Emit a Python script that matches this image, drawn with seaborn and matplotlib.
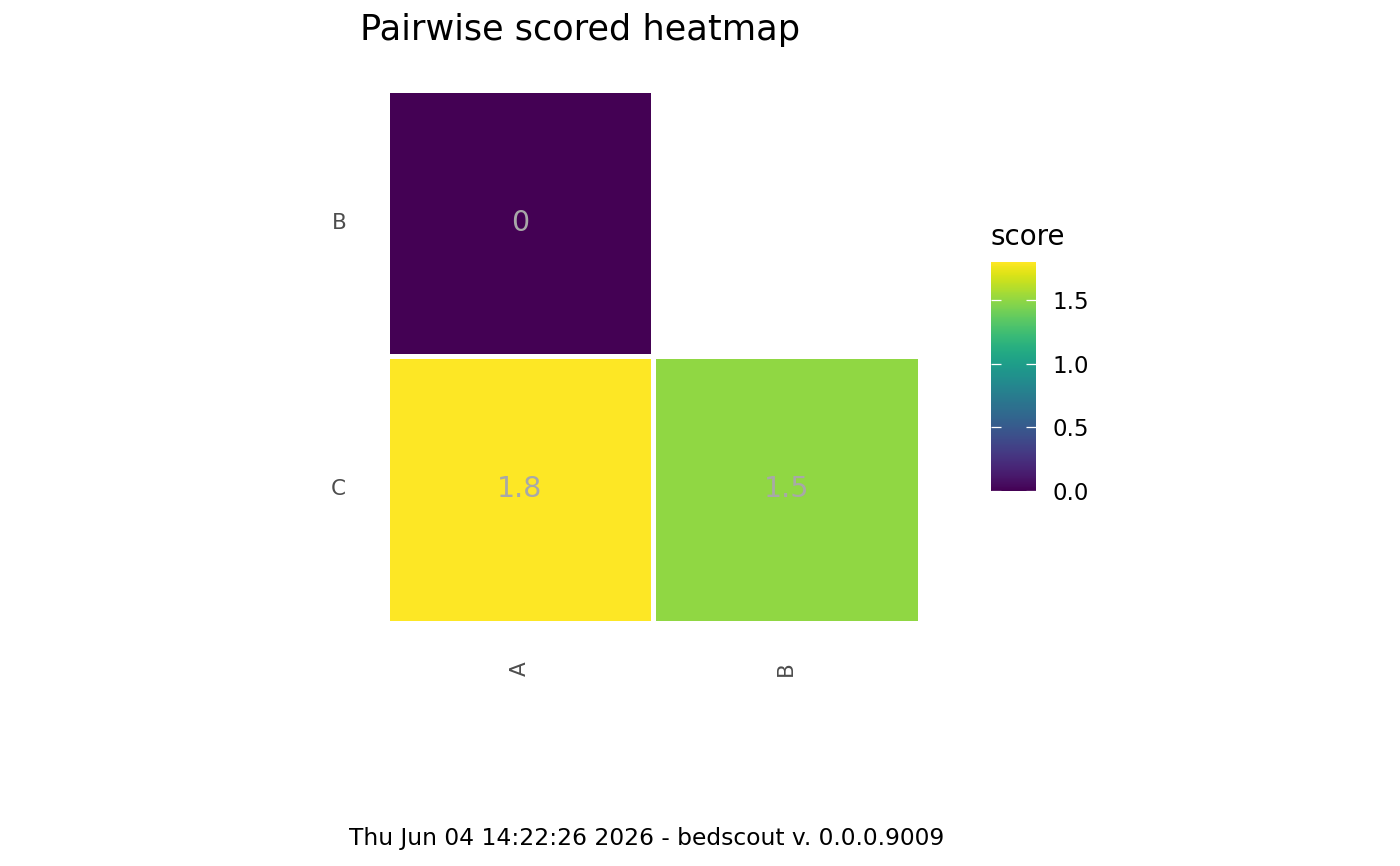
import numpy as np
import pandas as pd
import matplotlib
matplotlib.use("Agg")
import matplotlib.pyplot as plt
import seaborn as sns

# Data
col_labels = ["A", "B"]
row_labels = ["B", "C"]
scores = [[0.0, np.nan],
          [1.8, 1.5]]
annot_text = [["0", ""],
              ["1.8", "1.5"]]
cbar_ticks = [0.0, 0.5, 1.0, 1.5]
title = "Pairwise scored heatmap"
caption = "Thu Jun 04 14:22:26 2026 - bedscout v. 0.0.0.9009"

sns.set_theme(style="white")
plt.rcParams['font.family'] = ['DejaVu Sans']

df = pd.DataFrame(scores, index=row_labels, columns=col_labels)

fig = plt.figure(figsize=(14, 8.66), dpi=100)
ax = fig.add_axes([386.5/1400, 1 - 622.5/866, 533/1400, 533/866])
cax = fig.add_axes([991/1400, 1 - 491/866, 45/1400, 229/866])

sns.heatmap(df, ax=ax, cmap="viridis", vmin=0, vmax=1.8,
            mask=df.isna(), linewidths=3.6, linecolor="white",
            annot=np.array(annot_text), fmt="",
            annot_kws={"color": "#A8A8A8", "fontsize": 20.5},
            cbar_ax=cax, cbar_kws={"ticks": cbar_ticks})

ax.tick_params(axis="both", length=0, labelsize=15.5, colors="#4D4D4D")
ax.tick_params(axis="x", pad=28)
ax.tick_params(axis="y", pad=29)
ax.set_xticklabels(col_labels, rotation=90)
ax.set_yticklabels(row_labels, rotation=0)
ax.set_xlabel("")
ax.set_ylabel("")

cbar = ax.collections[0].colorbar
cbar.outline.set_visible(False)
cbar.set_ticks(cbar_ticks)
cbar.set_ticklabels([f"{t:.1f}" for t in cbar_ticks])
cax.set_axisbelow(False)
cax.tick_params(axis="y", direction="in", length=7.5, width=0.9, color="white",
                left=True, right=True, labelleft=False, labelright=True,
                labelsize=16.5, labelcolor="black", pad=12)
cax.set_title("score", loc="left", fontsize=20, pad=12, color="black")

fig.text(360/1400, 1 - 30/866, title, fontsize=25.3, ha="left", va="center", color="black")
fig.text(647/1400, 1 - 838/866, caption, fontsize=16.8, ha="center", va="center", color="black")

fig.savefig("out.png", dpi=100)
